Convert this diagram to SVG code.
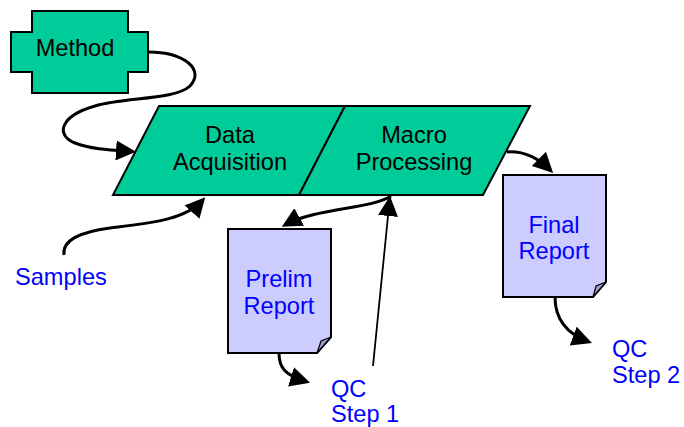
<svg xmlns="http://www.w3.org/2000/svg" width="684" height="427" viewBox="0 0 684 427">
<style>
.node{fill:#00CC99;stroke:#000;stroke-width:2;stroke-linejoin:miter}
.doc{fill:#CCCCFF;stroke:#000;stroke-width:2}
.fold{fill:#9C9CCC;stroke:#000;stroke-width:1.2}
.t{font-family:"Liberation Sans",Arial,sans-serif;font-size:23.6px;fill:#000;text-anchor:middle}
.b{font-family:"Liberation Sans",Arial,sans-serif;font-size:23.6px;fill:#0000FF}
.bc{text-anchor:middle}
.c{fill:none;stroke:#000;stroke-width:3;marker-end:url(#ah)}
.thin{stroke-width:1.8}
</style>
<defs>
<marker id="ah" markerUnits="userSpaceOnUse" markerWidth="20" markerHeight="20" viewBox="0 0 20 20" refX="16" refY="10" orient="auto">
<path d="M0,0 L20,10 L0,20 Z" fill="#000"/>
</marker>
</defs>
<g id="method">
<path class="node" d="M32,11 H128 V32 H148 V72 H128 V93 H32 V72 H11 V32 H32 Z"/>
<text class="t" x="75" y="56">Method</text>
</g>
<g id="data-acquisition">
<path class="node" d="M159,106 H345 L299,195 H113 Z"/>
<text class="t" x="230" y="143">Data</text>
<text class="t" x="230" y="170">Acquisition</text>
</g>
<g id="macro-processing">
<path class="node" d="M345,106 H530 L483,195 H299 Z"/>
<text class="t" x="414" y="143">Macro</text>
<text class="t" x="414" y="170">Processing</text>
</g>
<g id="prelim-report">
<path class="doc" d="M228,229 H331 V337 L317,353 H228 Z"/>
<path class="fold" d="M331,337 L317,353 L321,341 Z"/>
<text class="b bc" x="279" y="287">Prelim</text>
<text class="b bc" x="279" y="314">Report</text>
</g>
<g id="final-report">
<path class="doc" d="M503,175 H606 V282 L593,297 H503 Z"/>
<path class="fold" d="M606,282 L593,297 L596,286 Z"/>
<text class="b bc" x="554" y="233">Final</text>
<text class="b bc" x="554" y="259">Report</text>
</g>
<g id="samples">
<text class="b" x="15" y="285">Samples</text>
</g>
<g id="qc-step-1">
<text class="b" x="331" y="397">QC</text>
<text class="b" x="331" y="422">Step 1</text>
</g>
<g id="qc-step-2">
<text class="b" x="612" y="357">QC</text>
<text class="b" x="612" y="383">Step 2</text>
</g>
<g id="connectors">
<path class="c" d="M148,52 C185,52 205,70 190,86 C175,100 125,97 95,106 C60,116 55,135 75,143 C90,149 110,150 132,151.5"/>
<path class="c" d="M64,255 C62,240 80,232 110,228 C150,223 185,220 202.6,200.2"/>
<path class="c" d="M391,196 C372,209 315,208 285.3,224.8"/>
<path class="c thin" d="M373,366 L389.6,200"/>
<path class="c" d="M507,152 C520,151 535,155 550.3,170.1"/>
<path class="c" d="M279,353 C279,368 285,375 306.3,381.6"/>
<path class="c" d="M555,297 C555,318 565,333 588.2,341.6"/>
</g>
</svg>
